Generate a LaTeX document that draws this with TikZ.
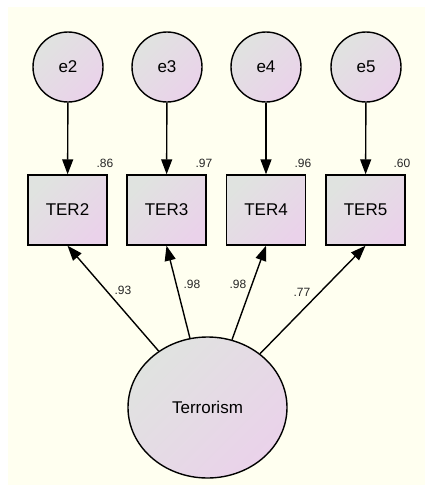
\documentclass[tikz,border=0pt]{standalone}
\usepackage{fontspec}
\setmainfont{Liberation Sans}
\usetikzlibrary{shapes.geometric,arrows.meta}
\definecolor{paper}{HTML}{FFFFF0}
\definecolor{shadeA}{HTML}{E0E3E0}
\definecolor{shadeB}{HTML}{EAD2EA}
\tikzset{
  fillshade/.style={top color=shadeA, bottom color=shadeB, shading angle=45},
  errvar/.style={circle, draw, line width=1.4pt, fillshade, minimum size=70pt, inner sep=0pt, font=\fontsize{17}{20}\selectfont},
  obsvar/.style={rectangle, draw, line width=1.4pt, fillshade, minimum width=79pt, minimum height=70pt, inner sep=0pt, font=\fontsize{17}{20}\selectfont},
  latvar/.style={ellipse, draw, line width=1.4pt, fillshade, minimum width=159pt, minimum height=141pt, inner sep=0pt, font=\fontsize{17}{20}\selectfont},
  path/.style={line width=1.4pt, -{Triangle[length=15pt,width=11pt]}},
  est/.style={font=\fontsize{12}{14}\selectfont, text=black!85, inner sep=0pt}
}
\begin{document}
\begin{tikzpicture}[x=1pt,y=-1pt]
  \useasboundingbox (0,0) rectangle (425,485);
  \fill[paper] (8,7) rectangle (425,485);

  % error terms
  \node[errvar] (e2) at (68,67) {e2};
  \node[errvar] (e3) at (167,67) {e3};
  \node[errvar] (e4) at (266,67) {e4};
  \node[errvar] (e5) at (366,67) {e5};

  % observed indicators
  \node[obsvar] (t2) at (67.5,210) {TER2};
  \node[obsvar] (t3) at (166.5,210) {TER3};
  \node[obsvar] (t4) at (266,210) {TER4};
  \node[obsvar] (t5) at (365.5,210) {TER5};

  % latent factor
  \node[latvar] (ter) at (207.5,407.5) {Terrorism};

  % error paths
  \draw[path] (e2) -- (t2);
  \draw[path] (e3) -- (t3);
  \draw[path] (e4) -- (t4);
  \draw[path] (e5) -- (t5);

  % factor loadings
  \draw[path] (ter) -- (t2.south);
  \draw[path] (ter) -- (t3.south);
  \draw[path] (ter) -- (t4.south);
  \draw[path] (ter) -- (t5.south);

  % squared multiple correlations
  \node[est] (r2) at (105,163) {.86};
  \node[est] (r3) at (204,163) {.97};
  \node[est] (r4) at (303,163) {.96};
  \node[est] (r5) at (402,163) {.60};

  % standardized loadings
  \node[est] (l2) at (123,290) {.93};
  \node[est] (l3) at (192,284) {.98};
  \node[est] (l4) at (238,284) {.98};
  \node[est] (l5) at (302,292) {.77};
\end{tikzpicture}
\end{document}
